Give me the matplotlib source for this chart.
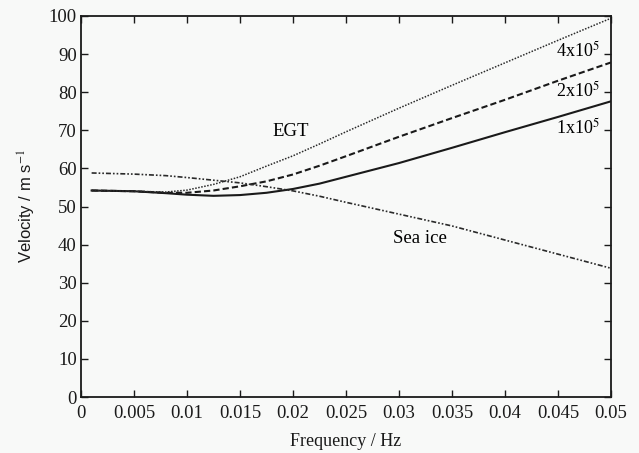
import matplotlib
matplotlib.use('Agg')
import matplotlib.pyplot as plt
from matplotlib.ticker import FormatStrFormatter, MultipleLocator

# Frecuencias (Hz) y velocidades de fase (m/s) de cada curva
freq = [0.001, 0.005, 0.008, 0.010, 0.0125, 0.015, 0.0175, 0.020,
        0.0225, 0.025, 0.030, 0.035, 0.040, 0.045, 0.050]
egt_1e5 = [54.2, 54.0, 53.5, 53.1, 52.8, 53.0, 53.6, 54.6,
           56.0, 57.8, 61.4, 65.4, 69.5, 73.5, 77.6]
egt_2e5 = [54.2, 54.0, 53.6, 53.6, 54.2, 55.3, 56.6, 58.4,
           60.7, 63.2, 68.3, 73.2, 78.0, 83.0, 87.8]
egt_4e5 = [54.2, 54.0, 53.8, 54.3, 55.8, 57.8, 60.6, 63.3,
           66.4, 69.6, 75.8, 81.8, 87.7, 93.6, 99.4]
sea_ice = [58.8, 58.5, 58.1, 57.6, 56.9, 56.2, 55.2, 54.1,
           52.7, 51.1, 48.0, 44.9, 41.2, 37.5, 33.8]

etiquetas_egt = ['1x10$^5$', '2x10$^5$', '4x10$^5$']

plt.rcParams['font.family'] = ['Liberation Serif', 'DejaVu Serif']
plt.rcParams['mathtext.fontset'] = 'stix'

fondo = '#f8f9f8'
tinta = '#1a1a1a'
fig = plt.figure(figsize=(6.39, 4.53), dpi=100, facecolor=fondo)
ax = fig.add_axes([0.1268, 0.1236, 0.8292, 0.8411], facecolor=fondo)

ax.plot(freq, egt_1e5, color=tinta, lw=1.5, ls='-')
ax.plot(freq, egt_2e5, color=tinta, lw=1.5, ls=(0, (3.0, 1.5)))
ax.plot(freq, egt_4e5, color='#2a2a2a', lw=1.1, ls=(0, (1, 1)))
ax.plot(freq, sea_ice, color='#2a2a2a', lw=1.2, ls=(0, (3, 1.2, 1, 1.2, 1, 1.2)))

# Etiquetas de las curvas
ax.text(0.0490, 91.0, etiquetas_egt[2], ha='right', va='center', fontsize=13)
ax.text(0.0490, 80.4, etiquetas_egt[1], ha='right', va='center', fontsize=13)
ax.text(0.0490, 70.6, etiquetas_egt[0], ha='right', va='center', fontsize=13)
ax.text(0.0198, 69.6, 'EGT', ha='center', va='center', fontsize=13.5)
ax.text(0.0320, 41.5, 'Sea ice', ha='center', va='center', fontsize=13.5)

ax.set_xlim(0, 0.05)
ax.set_ylim(0, 100)
ax.xaxis.set_major_locator(MultipleLocator(0.005))
ax.yaxis.set_major_locator(MultipleLocator(10))
ax.xaxis.set_major_formatter(FormatStrFormatter('%g'))
ax.yaxis.set_major_formatter(FormatStrFormatter('%g'))

ax.tick_params(axis='x', direction='in', top=True, length=5, width=1,
               labelsize=13.5, pad=6, colors=tinta)
ax.tick_params(axis='y', direction='in', right=True, length=5, width=1,
               labelsize=13.5, pad=3, colors=tinta)
for lado in ax.spines.values():
    lado.set_linewidth(1.3)
    lado.set_color(tinta)

ax.set_xlabel('Frequency / Hz', fontsize=13, labelpad=8, color=tinta)
ax.set_ylabel('Velocity / m s$^{-1}$', fontsize=12, labelpad=8, color=tinta,
              family=['Liberation Sans', 'DejaVu Sans'])

plt.savefig('out.png', dpi=100, facecolor=fondo)
plt.close()
